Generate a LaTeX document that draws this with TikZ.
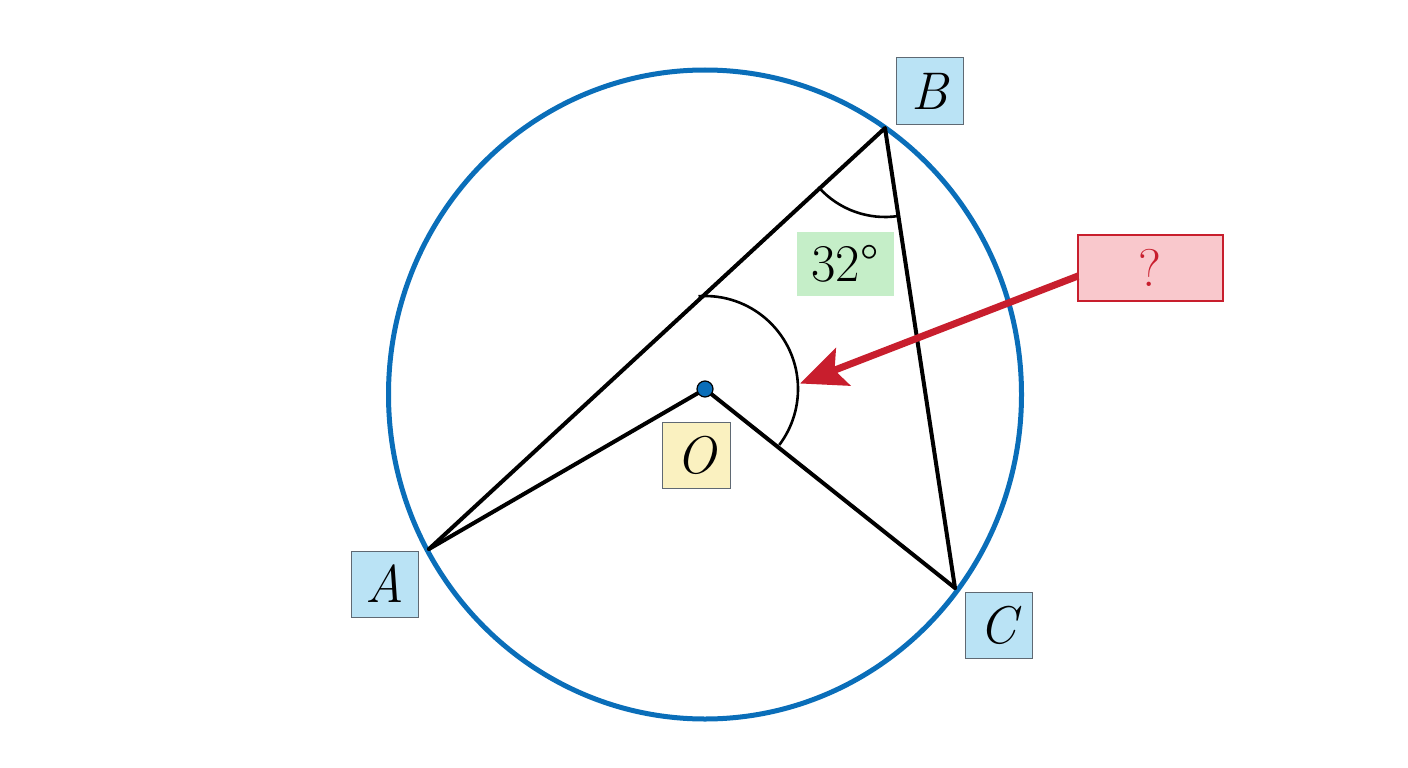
\documentclass[tikz,border=0pt]{standalone}
\usetikzlibrary{arrows.meta}
\definecolor{circblue}{RGB}{10,110,185}
\definecolor{lblue}{RGB}{186,227,245}
\definecolor{lyellow}{RGB}{250,241,192}
\definecolor{lgreen}{RGB}{197,238,200}
\definecolor{lred}{RGB}{249,200,204}
\definecolor{dred}{RGB}{200,30,45}
\definecolor{bordergray}{RGB}{95,105,115}
\tikzset{
  bigfont/.style={font=\fontsize{53}{58}\selectfont},
  lbl/.style={draw=bordergray, line width=1pt, minimum width=67pt, minimum height=66pt, inner sep=0pt, font=\fontsize{53}{58}\selectfont\itshape},
  seg/.style={line width=4pt, line cap=round, line join=round},
  anglemark/.style={line width=2.6pt}
}
\begin{document}
\begin{tikzpicture}[x=1pt,y=-1pt]
\useasboundingbox (0,0) rectangle (1408,768);
\coordinate (O) at (705,389);
\coordinate (A) at (429,549);
\coordinate (B) at (885,128);
\coordinate (C) at (955,588);
\coordinate (Ctr) at (705,394.5);
\draw[circblue, line width=5pt] (Ctr) ellipse [x radius=316.5, y radius=324.5];
\draw[seg] (A) -- (B) -- (C);
\draw[seg] (A) -- (O) -- (C);
% angle mark at B
\draw[anglemark] (B) ++(138.5:89) arc[start angle=138.5, end angle=81.5, radius=89];
% angle mark at O
\draw[anglemark] (O) ++(-94:93) arc[start angle=-94, end angle=37, radius=93];
\fill[circblue, draw=black, line width=1.2pt] (O) circle (8);
% labels
\node[lbl, fill=lblue] (Bl) at (929.5,91) {B};
\node[lbl, fill=lblue] (Al) at (385,584) {A};
\node[lbl, fill=lblue] (Cl) at (998.5,625.5) {C};
\node[lbl, fill=lyellow, minimum width=68pt] (Ol) at (696.7,455.5) {O};
\node[fill=lgreen, minimum width=97pt, minimum height=64pt, inner sep=0pt, bigfont] (ang) at (845,264) {32°};
\node[draw=dred, fill=lred, line width=2pt, minimum width=145pt, minimum height=66pt, inner sep=0pt, text=dred, bigfont] (q) at (1150.3,267.7) {?};
\coordinate (tip) at (800,383.5);
\coordinate (qs) at (1078,276);
\draw[dred, line width=7pt, -{Stealth[length=46pt, width=40pt, inset=9pt]}] (qs) -- (tip);
\end{tikzpicture}
\end{document}
